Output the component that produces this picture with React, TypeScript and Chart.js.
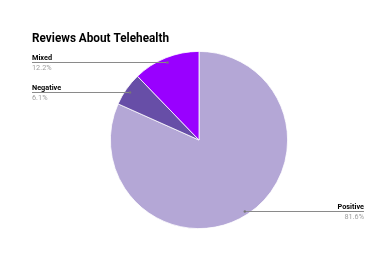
import React, { useEffect, useRef } from "react";
import { Chart, registerables } from "chart.js";

Chart.register(...registerables);

const titleText = "Reviews About Telehealth";
const categories = ["Positive", "Negative", "Mixed"];
const values = [81.6, 6.1, 12.2];
const percentLabels = ["81.6%", "6.1%", "12.2%"];
const colors = ["#b4a7d6", "#674ea7", "#9900ff"];

const FONT = "Roboto, 'Noto Sans', sans-serif";

const labelPlugin = {
  id: "leaderLabels",
  afterDraw(chart: any) {
    const ctx = chart.ctx;
    ctx.save();
    // title
    ctx.fillStyle = "#000000";
    ctx.font = `bold 13px ${FONT}`;
    ctx.textAlign = "left";
    ctx.textBaseline = "alphabetic";
    ctx.fillText(titleText, 32, 42.3, 137);

    const meta = chart.getDatasetMeta(0);
    meta.data.forEach((arc: any, i: number) => {
      const { x, y, startAngle, endAngle, outerRadius } = arc.getProps(
        ["x", "y", "startAngle", "endAngle", "outerRadius"],
        true
      );
      const mid = (startAngle + endAngle) / 2;
      const px = x + Math.cos(mid) * outerRadius * 0.95;
      const py = Math.round(y + Math.sin(mid) * outerRadius * 0.95) + 0.5;
      const left = Math.cos(mid) < 0;
      const edge = left ? 32 : 364;
      ctx.strokeStyle = "#8a8a8a";
      ctx.lineWidth = 1;
      ctx.beginPath();
      ctx.moveTo(px, py);
      ctx.lineTo(edge, py);
      ctx.stroke();
      ctx.fillStyle = "#777777";
      ctx.beginPath();
      ctx.arc(px, py, 1.2, 0, Math.PI * 2);
      ctx.fill();

      ctx.textAlign = left ? "left" : "right";
      ctx.fillStyle = "#000000";
      ctx.font = `bold 7.3px ${FONT}`;
      ctx.textBaseline = "alphabetic";
      ctx.fillText(categories[i], edge, py - 2.5);
      ctx.fillStyle = "#9e9e9e";
      ctx.font = `7.3px ${FONT}`;
      ctx.textBaseline = "top";
      ctx.fillText(percentLabels[i], edge, py + 2);
    });
    ctx.restore();
  },
};

export default function App() {
  const ref = useRef<HTMLCanvasElement>(null);
  useEffect(() => {
    if (!ref.current) return;
    const chart = new Chart(ref.current, {
      type: "pie",
      data: {
        labels: categories,
        datasets: [
          {
            data: values,
            backgroundColor: colors,
            borderColor: "#ffffff",
            borderWidth: 0.8,
          },
        ],
      },
      options: {
        responsive: false,
        animation: false,
        layout: { padding: { top: 51, bottom: 46, left: 110, right: 94 } },
        plugins: {
          legend: { display: false },
          tooltip: { enabled: false },
          title: { display: false },
        },
      },
      plugins: [labelPlugin],
    });
    return () => chart.destroy();
  }, []);
  return (
    <div style={{ position: "fixed", left: 0, top: 0, width: 382, height: 275, background: "#fff" }}>
      <canvas ref={ref} width={382} height={275} />
    </div>
  );
}
